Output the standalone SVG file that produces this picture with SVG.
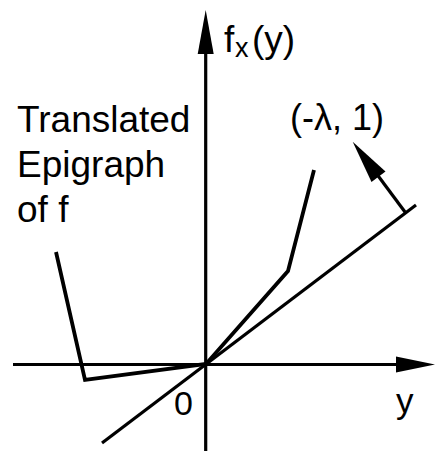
<svg xmlns="http://www.w3.org/2000/svg" width="435" height="451" viewBox="0 0 435 451">
<style>
.ln{stroke:#000;fill:none;stroke-width:3.2;stroke-linejoin:miter}
.cv{stroke:#000;fill:none;stroke-width:3.8;stroke-linejoin:miter}
.hd{fill:#000;stroke:none}
text{font-family:"Liberation Sans",Arial,sans-serif;font-size:37px;fill:#000}
</style>
<rect width="435" height="451" fill="#fff"/>
<g id="connectors">
<line class="ln" x1="205.7" y1="451" x2="205.7" y2="50"/>
<polygon class="hd" points="205.7,10 197.7,54 213.7,54"/>
<line class="ln" x1="13" y1="364.5" x2="400" y2="364.5"/>
<polygon class="hd" points="435,364.5 396,356.5 396,372.5"/>
<line class="ln" x1="102" y1="443" x2="416" y2="205"/>
<line class="ln" x1="405" y1="212" x2="376" y2="173"/>
<polygon class="hd" points="352.7,141.7 385.5,171.5 371.5,182"/>
</g>
<g id="epigraph">
<polyline class="cv" points="56,252 85,380 206,364 288,271 314,170"/>
</g>
<g id="labels">
<text x="224" y="52">f</text>
<text x="235" y="57" style="font-size:27px">x</text>
<text x="252" y="52">(y)</text>
<text x="17" y="132">Translated</text>
<text x="17" y="177">Epigraph</text>
<text x="17" y="222">of f</text>
<text x="290" y="130" style="font-size:36px">(-λ, 1)</text>
<text x="174" y="415" style="font-size:34px">0</text>
<text x="396" y="413" style="font-size:35px">y</text>
</g>
</svg>
